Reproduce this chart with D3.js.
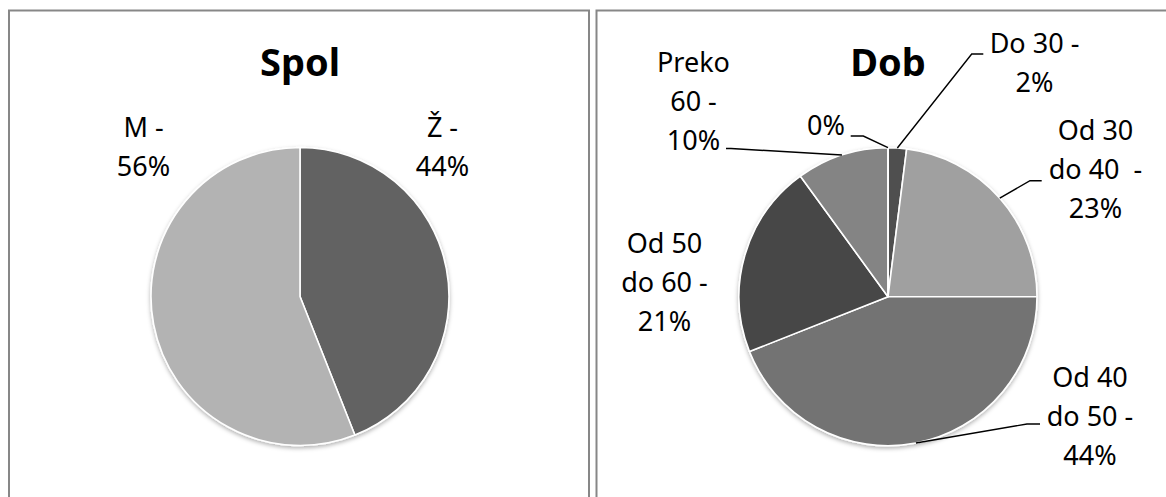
<!DOCTYPE html>
<html>
<head>
<meta charset="utf-8">
<script src="https://cdn.jsdelivr.net/npm/d3@7/dist/d3.min.js"></script>
<style>
  html, body { margin: 0; padding: 0; background: #fff; }
  svg { display: block; }
  text { font-family: "Noto Sans", "Open Sans", sans-serif; white-space: pre; }
</style>
</head>
<body>
<svg id="chart" width="1166" height="497"></svg>
<script>
// ---- data ----
const genderTitle = "Spol";
const genderCategories = ["Ž", "M"];
const genderValues = [44, 56];
const genderColors = ["#626262", "#b3b3b3"];

const ageTitle = "Dob";
const ageCategories = ["Do 30", "Od 30 do 40 ", "Od 40 do 50", "Od 50 do 60", "Preko 60", ""];
const ageValues = [2, 23, 44, 21, 10, 0];
const ageColors = ["#4f4f4f", "#a0a0a0", "#737373", "#474747", "#848484", "#2e2e2e"];

// ---- layout (positions relative to pie centre) ----
const panels = [
  {
    x: 9, y: 10.5, w: 580, h: 520, cx: 300, cy: 296.5, r: 149,
    title: genderTitle, cats: genderCategories, vals: genderValues, colors: genderColors,
    labels: [
      { dx: 142.5, dy: -159.8 },
      { dx: -156.5, dy: -159.8 }
    ]
  },
  {
    x: 596.5, y: 10.5, w: 600, h: 520, cx: 888, cy: 296.7, r: 149,
    title: ageTitle, cats: ageCategories, vals: ageValues, colors: ageColors,
    labels: [
      { dx: 146.5, dy: -243.4, lead: { end: [95.3, -242.7], elbow: [83.7, -242.7] } },
      { dx: 207.5, dy: -156.7, lead: { end: [153.7, -116], elbow: [142, -116] } },
      { dx: 202, dy: 90.6, lead: { end: [152, 127.3], elbow: [139, 127.3] } },
      { dx: -223.5, dy: -43.7 },
      { dx: -194.5, dy: -225, lead: { end: [-162, -148.2], elbow: [-157, -148.2] } },
      { dx: -62, dy: -161.7, lead: { end: [-37.3, -160.7], elbow: [-24.7, -160.7] } }
    ]
  }
];

const FONT = 27, LINE = 39, WRAP = 98;

const svg = d3.select("#chart");
const defs = svg.append("defs");
const f = defs.append("filter").attr("id", "shadow")
  .attr("x", "-20%").attr("y", "-20%").attr("width", "140%").attr("height", "140%");
f.append("feDropShadow").attr("dx", 0).attr("dy", 2).attr("stdDeviation", 2.2)
  .attr("flood-color", "#000").attr("flood-opacity", 0.3);

// text measurer
const measurer = svg.append("text").attr("font-size", FONT).attr("x", -1000).attr("y", -1000);
function textWidth(s) { measurer.text(s); return measurer.node().getComputedTextLength(); }
function wrap(text) {
  const tokens = text.split(" ");
  const lines = [];
  let cur = null;
  tokens.forEach(t => {
    if (cur === null) { cur = t; return; }
    const trial = cur + " " + t;
    if (textWidth(trial) > WRAP && cur.trim() !== "") { lines.push(cur); cur = t; }
    else cur = trial;
  });
  if (cur !== null) lines.push(cur);
  return lines;
}

panels.forEach(p => {
  const g = svg.append("g");
  g.append("rect").attr("x", p.x).attr("y", p.y).attr("width", p.w).attr("height", p.h)
    .attr("fill", "#fff").attr("stroke", "#878787").attr("stroke-width", 2);

  g.append("text").attr("x", p.cx).attr("y", 75.5).attr("text-anchor", "middle")
    .attr("font-size", 38).attr("font-weight", "bold").attr("fill", "#000").text(p.title);

  const total = d3.sum(p.vals);
  const pie = d3.pie().sort(null).value(d => d)(p.vals);
  const arc = d3.arc().innerRadius(0).outerRadius(p.r);

  const pg = g.append("g").attr("transform", `translate(${p.cx},${p.cy})`);
  pg.append("g").attr("filter", "url(#shadow)")
    .selectAll("path").data(pie).join("path")
    .attr("d", arc)
    .attr("fill", (d, i) => p.colors[i])
    .attr("stroke", "#fff").attr("stroke-width", 1.6).attr("stroke-linejoin", "round");

  // leader lines
  pie.forEach((d, i) => {
    const L = p.labels[i];
    if (!L.lead) return;
    const a = (d.startAngle + d.endAngle) / 2;
    const px = p.r * Math.sin(a), py = -p.r * Math.cos(a);
    pg.append("path")
      .attr("d", d3.line()([L.lead.end, L.lead.elbow, [px, py]]))
      .attr("fill", "none").attr("stroke", "#000").attr("stroke-width", 1.4);
  });

  // labels
  pie.forEach((d, i) => {
    const L = p.labels[i];
    const pct = Math.round(p.vals[i] / total * 100) + "%";
    const name = p.cats[i];
    const lines = name === "" ? [pct] : wrap(name + " -").concat([pct]);
    const t = pg.append("text").attr("text-anchor", "middle").attr("font-size", FONT).attr("fill", "#000");
    lines.forEach((ln, k) => {
      t.append("tspan").attr("x", L.dx).attr("y", L.dy + k * LINE).text(ln);
    });
  });
});
measurer.remove();
</script>
</body>
</html>
